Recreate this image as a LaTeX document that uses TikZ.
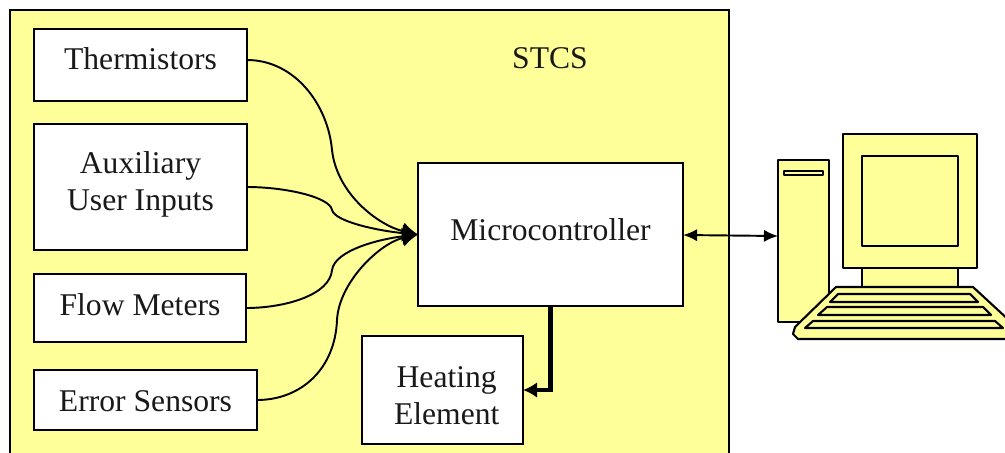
\documentclass[tikz,border=0pt]{standalone}
\usepackage{fontspec}
\setmainfont{Liberation Serif}
\usetikzlibrary{arrows.meta}
\definecolor{paleyellow}{HTML}{FFFF99}
\newcommand{\pxunit}{.2mm}
\tikzset{
	box/.style={draw, fill=white, line width=1pt, inner sep=0pt, outer sep=0pt},
	lbl/.style={align=center, font=\fontsize{18}{21}\selectfont, text=black!90},
	part/.style={draw, fill=paleyellow, line width=1.2pt, line join=round},
	wire/.style={line width=1.1pt, -{Latex[length=9pt, width=10pt]}}
}
\begin{document}
\begin{tikzpicture}[x=.2mm, y=-.2mm]
	\clip (0, 0) rectangle (1005, 452);

	\fill[paleyellow] (10, 10) rectangle (729, 470);
	\draw[line width=1pt] (10, 470) to (10, 10) to (729, 10) to (729, 470);
	\node[lbl] (stcs) at (550, 58){STCS};

	\node[box, minimum width=213*\pxunit, minimum height=72*\pxunit, label={[lbl, yshift=3.4pt]center:Thermistors}] (thermistors) at (140.5, 65){};
	\node[box, minimum width=213*\pxunit, minimum height=126*\pxunit, label={[lbl, yshift=1.6pt]center:Auxiliary\\User Inputs}] (auxiliary) at (140.5, 187){};
	\node[box, minimum width=212*\pxunit, minimum height=68*\pxunit, label={[lbl, yshift=1.7pt]center:Flow Meters}] (flow) at (140, 308){};
	\node[box, minimum width=223*\pxunit, minimum height=60*\pxunit, label={[lbl, yshift=-.6pt]center:Error Sensors}] (error) at (145.5, 400){};
	\node[box, minimum width=265*\pxunit, minimum height=143*\pxunit, label={[lbl, yshift=2.6pt]center:Microcontroller}] (micro) at (550.5, 234.5){};
	\node[box, minimum width=161*\pxunit, minimum height=108*\pxunit, label={[lbl, xshift=2.4pt, yshift=-3.2pt]center:Heating\\Element}] (heating) at (442.5, 390){};

	% inputs
	\coordinate (thermout) at (247, 60);
	\coordinate (thermbend) at (332, 150);
	\coordinate (auxbend) at (332, 210);
	\coordinate (flowbend) at (332, 270);
	\coordinate (errorbend) at (337, 320);
	\draw[wire] (thermout) .. controls (295, 60) and (328, 105) .. (thermbend) .. controls (337, 195) and (380, 226) .. (micro.west);
	\draw[wire] (auxiliary.east) .. controls (285, 187) and (330, 197) .. (auxbend) .. controls (335, 222) and (380, 231) .. (micro.west);
	\draw[wire] (flow.east) .. controls (285, 308) and (330, 295) .. (flowbend) .. controls (335, 250) and (380, 239) .. (micro.west);
	\draw[wire] (error.east) .. controls (300, 400) and (335, 370) .. (errorbend) .. controls (339, 282) and (380, 243) .. (micro.west);

	% outputs
	\draw[line width=2.4pt, -{Latex[length=8pt, width=9pt]}] (micro.south) |- (heating.east);
	\coordinate (towerport) at (778, 236);
	\draw[line width=1.1pt, {Latex[length=8pt, width=7pt]}-{Latex[length=8pt, width=7pt]}] (683, 235) to (towerport);

	% computer
	\draw[part] (778, 160) rectangle (829, 322);
	\draw[part] (784, 171) rectangle (823, 175);
	\draw[part] (862, 260) rectangle (958, 292);
	\draw[part] (843, 134) rectangle (977, 268);
	\draw[part] (862, 156) rectangle (958, 246);
	\draw[part] (836, 287) to (973, 287) to (1012, 323) to (1012, 339) to (798, 339) to (793, 334) to (795, 327) -- cycle;
	\draw[part] (838, 294) to (970, 294) to (978, 302) to (830, 302) -- cycle;
	\draw[part] (827, 307) to (983, 307) to (991, 315) to (818, 315) -- cycle;
	\draw[part] (813, 321) to (995, 321) to (1003, 328) to (805, 328) -- cycle;
\end{tikzpicture}
\end{document}
